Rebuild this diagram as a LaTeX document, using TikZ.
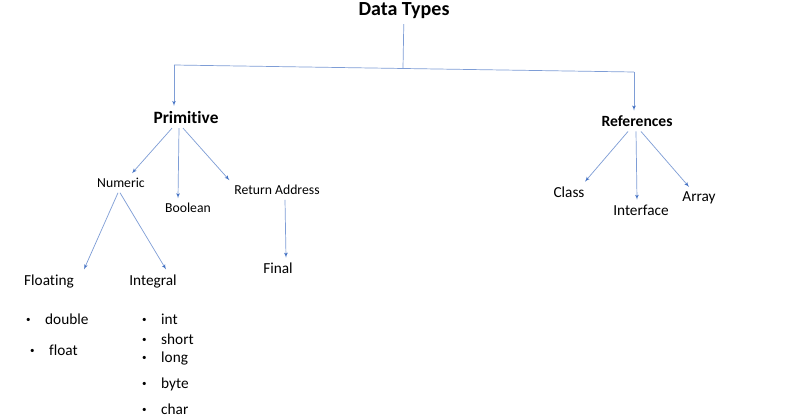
\documentclass[tikz,border=0pt]{standalone}
\usepackage{fontspec}
\setmainfont{Carlito}[Ligatures=NoCommon]
\usetikzlibrary{arrows}
\definecolor{tipblue}{HTML}{4472C4}
\definecolor{lineblue}{HTML}{7E9DD6}
\newcommand{\itemdot}{\makebox[19pt][l]{\raisebox{2pt}{\fontsize{9}{10}\selectfont\textbullet}}}
\begin{document}
\begin{tikzpicture}[x=1pt,y=-1pt]
        \tikzset{lbl/.style = {inner sep=0pt, outer sep=5pt, font=\fontsize{15.3}{17}\selectfont}};
        \tikzset{small/.style = {lbl, font=\fontsize{13.7}{16}\selectfont}};
        \tikzset{item/.style = {inner sep=0pt, anchor=west, font=\fontsize{15.3}{17}\selectfont}};
        \tikzset{link/.style = {draw=lineblue, line width=0.7pt}};
        \tikzset{edge/.style = {link, ->, > = latex', >={latex'[tipblue]}}};
        \useasboundingbox[fill=white] (0,0) rectangle (800,420);
        % top of the tree
        \node[lbl, font=\fontsize{20}{24}\bfseries] (dt) at (404,11) {Data Types};
        \node[lbl, font=\fontsize{17.3}{20}\bfseries] (prim) at (186,117) {Primitive};
        \node[lbl, font=\fontsize{15.6}{18}\bfseries] (refs) at (637,121) {References};
        \coordinate (dtj) at (403,68);
        \coordinate (pl) at (174,65);
        \coordinate (rl) at (634,72);
        \draw[link] (dt) -- (dtj);
        \draw[link] (pl) -- (rl);
        \draw[edge] (pl) -- (pl |- prim.north);
        \draw[edge] (rl) -- (rl |- refs.north);
        % primitive types
        \node[small] (num) at (121,183) {Numeric};
        \node[small] (bool) at (188,208) {Boolean};
        \node[small] (ret) at (277,190) {Return Address};
        \node[lbl] (fin) at (278,268) {Final};
        \draw[edge] ([xshift=-14pt]prim.south) -- ([xshift=11pt]num.north);
        \draw[edge] ([xshift=-7pt]prim.south) -- ([xshift=-10pt]bool.north);
        \draw[edge] ([xshift=-3pt]prim.south) -- (ret.north west);
        \draw[edge] ([xshift=8pt]ret.south) -- ([xshift=8pt]fin.north);
        \node[lbl] (flt) at (49,281) {Floating};
        \node[lbl] (integ) at (153,281) {Integral};
        \draw[edge] ([xshift=-3pt]num.south) -- ([xshift=35pt]flt.north);
        \draw[edge] ([xshift=-1pt]num.south) -- ([xshift=13pt]integ.north);
        % floating point and integral lists
        \node[item] (fdbl) at (26,319) {\itemdot double};
        \node[item] (fflt) at (30,350) {\itemdot float};
        \node[item] (iint) at (142,319) {\itemdot int};
        \node[item] (ishort) at (142,339) {\itemdot short};
        \node[item] (ilong) at (142,358) {\itemdot long};
        \node[item] (ibyte) at (142,384) {\itemdot byte};
        \node[item] (ichar) at (142,409) {\itemdot char};
        % reference types
        \node[lbl] (cls) at (569,192) {Class};
        \node[lbl] (intf) at (641,210) {Interface};
        \node[lbl] (arr) at (699,198) {Array};
        \draw[edge] ([xshift=-9pt]refs.south) -- ([xshift=16pt]cls.north);
        \draw[edge] ([xshift=-1pt]refs.south) -- ([xshift=-4pt]intf.north);
        \draw[edge] ([xshift=4pt]refs.south) -- ([xshift=-10pt]arr.north);
    \end{tikzpicture}
\end{document}
